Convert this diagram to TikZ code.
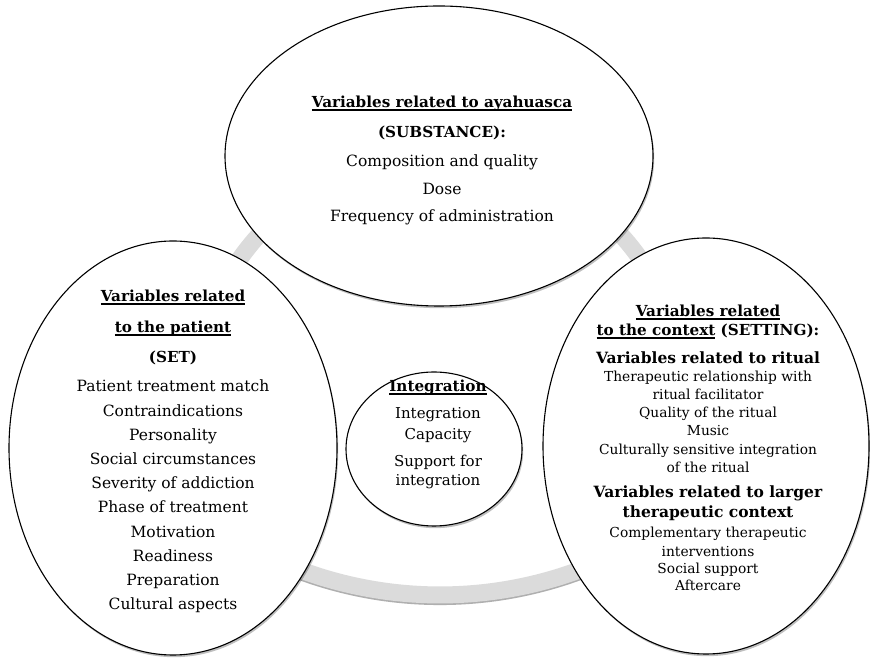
\documentclass[tikz,border=0pt]{standalone}
\usepackage{fontspec}
\setmainfont{DejaVu Serif}
\usetikzlibrary{shapes.geometric,shadows}
\definecolor{bandgray}{RGB}{219,219,219}
\definecolor{bandshade}{RGB}{175,175,175}
\newcommand\ulx[1]{\setbox0\hbox{#1}\rlap{\rule[-2.6pt]{\wd0}{1.1pt}}\box0{}}
\tikzset{
  bub/.style={ellipse, draw=black, line width=1.1pt, fill=white, inner sep=0pt,
    drop shadow={shadow xshift=1.2pt, shadow yshift=-2.2pt, opacity=0.25, fill=black}},
  band/.style={line width=17pt, draw=bandgray},
  bandsh/.style={line width=17pt, draw=bandshade},
  txt/.style={anchor=base, inner sep=0pt, font=\fontsize{15}{18}\selectfont},
  txtl/.style={anchor=base, inner sep=0pt, font=\fontsize{15.5}{18}\selectfont},
  ttl/.style={anchor=base, inner sep=0pt, font=\fontsize{15.2}{18}\selectfont\bfseries},
  sm/.style={anchor=base, inner sep=0pt, font=\fontsize{13.8}{16}\selectfont},
  hd/.style={anchor=base, inner sep=0pt, font=\fontsize{15.5}{18}\selectfont\bfseries}
}
\begin{document}
\begin{tikzpicture}[x=1pt,y=1pt]
\useasboundingbox (0,0) rectangle (870,658);
\fill[white] (0,0) rectangle (870,658);
% connector arcs
\coordinate (b1) at (270.1,100.7);
\coordinate (a1) at (209.8,341.8);
\coordinate (c1) at (580.5,458.7);
\draw[bandsh] ([yshift=-1.6pt]b1) arc[start angle=245,end angle=295,radius=402];
\draw[band] (b1) arc[start angle=245,end angle=295,radius=402];
\draw[band] (a1) arc[start angle=160,end angle=125,radius=245];
\draw[band] (c1) arc[start angle=55,end angle=20,radius=245];
% bubbles
\node[bub, minimum width=428pt, minimum height=300pt] (sub) at (439,502) {};
\node[bub, minimum width=328pt, minimum height=414pt] (set) at (173,210) {};
\node[bub, minimum width=326pt, minimum height=416pt] (setting) at (706,212) {};
\node[bub, minimum width=176pt, minimum height=154pt] (integ) at (434,209) {};
% substance text
\node[ttl] (s1) at (442,550) {\ulx{Variables related to ayahuasca}};
\node[ttl] (s2) at (442,520) {(SUBSTANCE):};
\node[txtl] (s3) at (442,491) {Composition and quality};
\node[txtl] (s4) at (442,463) {Dose};
\node[txtl] (s5) at (442,436) {Frequency of administration};
% set text
\node[ttl] (p1) at (173,356) {\ulx{Variables related}};
\node[ttl] (p2) at (173,325) {\ulx{to the patient}};
\node[ttl] (p3) at (173,295) {(SET)};
\foreach \t [count=\i] in {Patient treatment match, Contraindications, Personality,
  Social circumstances, Severity of addiction, Phase of treatment, Motivation,
  Readiness, Preparation, Cultural aspects}
  \node[txtl] (pi\i) at (173,{266-24.2*(\i-1)}) {\t};
% setting text
\node[ttl] (r1) at (708,341) {\ulx{Variables related}};
\node[ttl] (r2) at (708,322) {\ulx{to the context} (SETTING):};
\node[hd] (r3) at (708,294) {Variables related to ritual};
\node[sm] (r4) at (708,276) {Therapeutic relationship with};
\node[sm] (r5) at (708,258) {ritual facilitator};
\node[sm] (r6) at (708,240) {Quality of the ritual};
\node[sm] (r7) at (708,222) {Music};
\node[sm] (r8) at (708,203) {Culturally sensitive integration};
\node[sm] (r9) at (708,185) {of the ritual};
\node[hd] (r10) at (708,160) {Variables related to larger};
\node[hd] (r11) at (708,140) {therapeutic context};
\node[sm] (r12) at (708,120) {Complementary therapeutic};
\node[sm] (r13) at (708,101) {interventions};
\node[sm] (r14) at (708,84) {Social support};
\node[sm] (r15) at (708,67) {Aftercare};
% integration text
\node[ttl] (g1) at (438,266) {\ulx{Integration}};
\node[txt] (g2) at (438,239) {Integration};
\node[txt] (g3) at (438,218) {Capacity};
\node[txt] (g4) at (438,191) {Support for};
\node[txt] (g5) at (438,172) {integration};
\end{tikzpicture}
\end{document}
